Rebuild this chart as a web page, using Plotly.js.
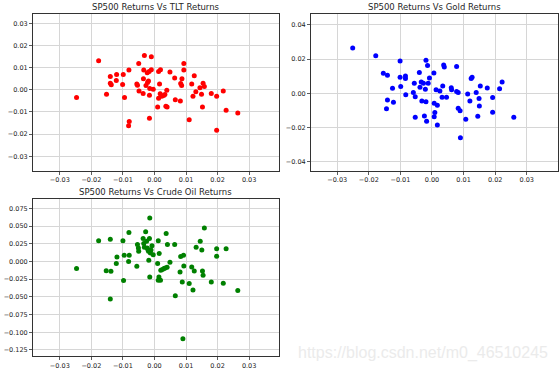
<!DOCTYPE html>
<html>
<head>
<meta charset="utf-8">
<script src="https://cdn.plot.ly/plotly-3.0.1.min.js"></script>
<style>html,body{margin:0;padding:0;background:#fff;}#chart{width:560px;height:372px;}</style>
</head>
<body>
<div id="chart"></div>
<script>
// SP500 vs TLT
const tltX = [-0.0247,-0.0177,-0.0152,-0.0140,-0.0140,-0.0137,-0.0120,-0.0121,-0.0099,-0.0101,-0.0095,-0.0081,-0.0080,-0.0082,-0.0056,-0.0054,-0.0050,-0.0049,-0.0036,-0.0035,-0.0034,-0.0032,-0.0027,-0.0023,-0.0022,-0.0019,-0.0017,-0.0016,-0.0016,-0.0015,-0.0010,-0.0010,-0.0004,0.0010,0.0013,0.0013,0.0016,0.0019,0.0018,0.0023,0.0029,0.0033,0.0036,0.0039,0.0040,0.0049,0.0064,0.0066,0.0082,0.0083,0.0086,0.0087,0.0093,0.0093,0.0110,0.0118,0.0122,0.0126,0.0131,0.0144,0.0149,0.0152,0.0154,0.0158,0.0180,0.0197,0.0197,0.0218,0.0227,0.0264];
const tltY = [-0.0035,0.0131,-0.0020,0.0060,0.0030,0.0023,0.0069,0.0042,0.0069,0.0024,-0.0035,0.0089,-0.0143,-0.0162,0.0026,0.0021,0.0119,-0.0005,-0.0017,0.0050,0.0089,0.0155,0.0020,0.0077,0.0033,0.0040,0.0083,-0.0024,-0.0128,0.0006,0.0149,0.0090,0.0003,-0.0078,0.0083,-0.0038,0.0026,0.0090,-0.0018,-0.0029,-0.0026,-0.0021,-0.0074,-0.0002,-0.0078,0.0080,0.0053,-0.0045,-0.0050,0.0029,0.0020,0.0050,0.0089,0.0119,-0.0135,0.0026,-0.0029,0.0063,-0.0009,0.0009,-0.0020,-0.0078,0.0030,0.0015,-0.0017,-0.0029,-0.0182,-0.0005,-0.0092,-0.0105];

// SP500 vs Gold
const goldX = [-0.0251,-0.0178,-0.0154,-0.0141,-0.0141,-0.0144,-0.0125,-0.0122,-0.0101,-0.0101,-0.0099,-0.0084,-0.0084,-0.0083,-0.0059,-0.0056,-0.0053,-0.0053,-0.0040,-0.0038,-0.0034,-0.0032,-0.0027,-0.0024,-0.0021,-0.0019,-0.0019,-0.0017,-0.0014,-0.0012,-0.0008,0.0006,0.0007,0.0007,0.0009,0.0013,0.0017,0.0017,0.0025,0.0032,0.0034,0.0037,0.0039,0.0046,0.0061,0.0062,0.0078,0.0078,0.0083,0.0083,0.0089,0.0090,0.0107,0.0113,0.0120,0.0124,0.0127,0.0140,0.0145,0.0149,0.0150,0.0153,0.0175,0.0192,0.0192,0.0214,0.0222,0.0259];
const goldY = [0.0265,0.0220,0.0117,0.0105,-0.0039,-0.0090,0.0029,-0.0053,0.0189,0.0094,0.0039,0.0101,0.0086,-0.0008,0.0004,0.0059,-0.0020,-0.0140,0.0121,0.0035,0.0066,-0.0045,0.0059,-0.0133,0.0023,0.0193,-0.0049,-0.0164,0.0162,0.0059,0.0090,0.0119,-0.0059,-0.0137,-0.0113,0.0021,-0.0070,-0.0185,0.0014,-0.0023,0.0043,0.0166,0.0154,-0.0023,0.0033,0.0020,0.0156,0.0010,0.0004,-0.0088,-0.0103,-0.0261,-0.0152,-0.0004,-0.0045,0.0086,0.0094,0.0004,-0.0135,-0.0031,-0.0074,0.0043,0.0031,-0.0025,-0.0111,0.0027,0.0066,-0.0140];

// SP500 vs Crude Oil
const oilX = [-0.0247,-0.0177,-0.0153,-0.0140,-0.0138,-0.0140,-0.0121,-0.0119,-0.0100,-0.0098,-0.0096,-0.0081,-0.0080,-0.0082,-0.0056,-0.0054,-0.0051,-0.0050,-0.0036,-0.0034,-0.0032,-0.0028,-0.0025,-0.0023,-0.0021,-0.0019,-0.0018,-0.0016,-0.0015,-0.0015,-0.0013,-0.0011,-0.0008,-0.0004,0.0010,0.0012,0.0014,0.0015,0.0012,0.0019,0.0020,0.0025,0.0030,0.0034,0.0037,0.0040,0.0041,0.0049,0.0064,0.0066,0.0081,0.0083,0.0088,0.0090,0.0092,0.0093,0.0110,0.0118,0.0122,0.0126,0.0132,0.0145,0.0150,0.0152,0.0154,0.0158,0.0180,0.0197,0.0197,0.0218,0.0227,0.0264];
const oilY = [-0.0101,0.0293,-0.0130,0.0312,-0.0139,-0.0530,-0.0030,0.0064,0.0293,-0.0270,0.0087,0.0410,0.0087,-0.0002,-0.0068,0.0238,0.0190,0.0144,0.0322,0.0252,0.0201,0.0420,0.0285,0.0190,0.0167,0.0144,0.0016,0.0322,0.0614,-0.0219,0.0120,0.0162,0.0223,0.0096,-0.0030,0.0293,-0.0219,0.0111,-0.0266,-0.0266,-0.0125,-0.0115,-0.0101,-0.0092,0.0393,-0.0082,0.0238,-0.0012,0.0238,-0.0483,-0.0148,0.0068,-0.0290,-0.1090,0.0087,-0.0064,-0.0313,-0.0078,-0.0403,-0.0134,0.0200,0.0285,0.0162,-0.0134,-0.0195,0.0473,-0.0290,0.0180,0.0073,-0.0308,0.0180,-0.0412];

const titles = ['SP500 Returns Vs TLT Returns','SP500 Returns Vs Gold Returns','SP500 Returns Vs Crude Oil Returns'];
const watermark = 'https://blog.csdn.net/m0_46510245';

const tickFont = {family:'DejaVu Sans', size:6.5, color:'#222'};
function axis(extra){
  return Object.assign({
    showline:true, mirror:true, linecolor:'#333', linewidth:1,
    ticks:'outside', ticklen:3, tickwidth:0.8, tickcolor:'#333',
    showgrid:true, gridcolor:'#d6d6d6', gridwidth:1,
    zeroline:false, tickfont:tickFont, fixedrange:true
  }, extra);
}
const xCommon = {tick0:0, dtick:0.01, tickformat:'.2f'};

const traces = [
  {x:tltX, y:tltY, xaxis:'x', yaxis:'y', mode:'markers', type:'scatter', marker:{color:'#ff0000', size:5, line:{width:0}}},
  {x:goldX, y:goldY, xaxis:'x2', yaxis:'y2', mode:'markers', type:'scatter', marker:{color:'#0000ff', size:5, line:{width:0}}},
  {x:oilX, y:oilY, xaxis:'x3', yaxis:'y3', mode:'markers', type:'scatter', marker:{color:'#008000', size:5, line:{width:0}}}
];

const dx1 = [33/560, 278.5/560], dx2 = [311/560, 557.7/560];
const dyTop = [1-170.5/372, 1-14/372], dyBot = [1-356/372, 1-199.3/372];

const titleFont = {family:'DejaVu Sans', size:8.5, color:'#262626'};
const layout = {
  width:560, height:372, margin:{l:0,r:0,t:0,b:0},
  paper_bgcolor:'#fff', plot_bgcolor:'#fff', showlegend:false,
  font:{family:'DejaVu Sans'},
  xaxis: axis(Object.assign({domain:dx1, range:[-0.0385,0.0393], anchor:'y'}, xCommon)),
  yaxis: axis({domain:dyTop, range:[-0.0364,0.0342], tick0:0, dtick:0.01, tickformat:'.2f', anchor:'x'}),
  xaxis2: axis(Object.assign({domain:dx2, range:[-0.0383,0.0398], anchor:'y2'}, xCommon)),
  yaxis2: axis({domain:dyTop, range:[-0.0452,0.0464], tick0:0, dtick:0.02, tickformat:'.2f', anchor:'x2'}),
  xaxis3: axis(Object.assign({domain:dx1, range:[-0.0385,0.0393], anchor:'y3'}, xCommon)),
  yaxis3: axis({domain:dyBot, range:[-0.1335,0.0877], tick0:0, dtick:0.025, tickformat:'.3f', anchor:'x3'}),
  annotations: [
    {text:titles[0], xref:'paper', yref:'paper', x:(dx1[0]+dx1[1])/2, y:dyTop[1], yanchor:'bottom', xanchor:'center', showarrow:false, font:titleFont},
    {text:titles[1], xref:'paper', yref:'paper', x:(dx2[0]+dx2[1])/2, y:dyTop[1], yanchor:'bottom', xanchor:'center', showarrow:false, font:titleFont},
    {text:titles[2], xref:'paper', yref:'paper', x:(dx1[0]+dx1[1])/2, y:dyBot[1], yanchor:'bottom', xanchor:'center', showarrow:false, font:titleFont},
    {text:watermark, xref:'paper', yref:'paper', x:550/560, y:1-353/372, xanchor:'right', yanchor:'middle', showarrow:false, font:{family:'Liberation Sans', size:16, color:'#ebebeb'}}
  ]
};

Plotly.newPlot('chart', traces, layout, {displayModeBar:false, staticPlot:true});
</script>
</body>
</html>
